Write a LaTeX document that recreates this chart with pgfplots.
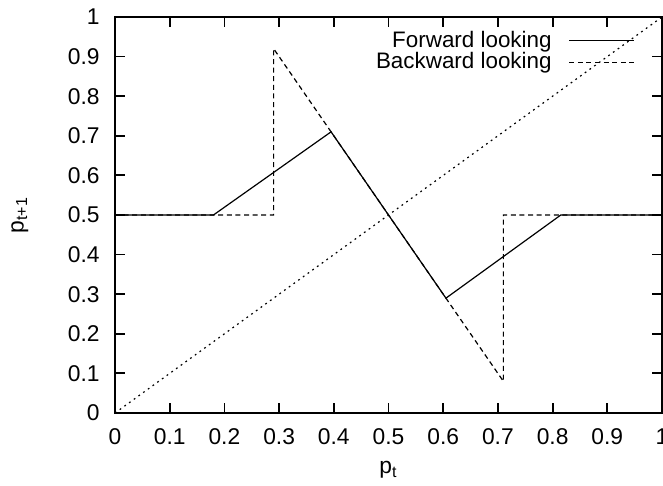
\documentclass[border=0pt]{standalone}
\usepackage{pgfplots}
\pgfplotsset{compat=1.18}
\usepackage{fontspec}
\setmainfont{Liberation Sans}

\begin{document}
\fontsize{11.2}{13}\selectfont
\begin{tikzpicture}[font=\fontsize{11.2}{13}\selectfont]
\begin{axis}[
    name=ax,
    scale only axis,
    width=273.5pt, height=198pt,
    xmin=0, xmax=1, ymin=0, ymax=1,
    /pgf/number format/assume math mode=true,
    xtick={0,0.1,0.2,0.3,0.4,0.5,0.6,0.7,0.8,0.9,1},
    ytick={0,0.1,0.2,0.3,0.4,0.5,0.6,0.7,0.8,0.9,1},
    xticklabels={0,0.1,0.2,0.3,0.4,0.5,0.6,0.7,0.8,0.9,1},
    yticklabels={0,0.1,0.2,0.3,0.4,0.5,0.6,0.7,0.8,0.9,1},
    tick align=inside,
    major tick length=5pt,
    axis line style={line width=0.9pt},
    every tick/.style={line width=0.9pt, black},
    ticklabel style={font=\fontsize{11.4}{13}\selectfont},
    xticklabel style={inner sep=0pt, yshift=-7.5pt},
    yticklabel style={inner sep=0pt, xshift=-7.5pt},
    xlabel={p\textsubscript{t}},
    ylabel={p\textsubscript{t+1}},
    label style={font=\fontsize{11.4}{13}\selectfont},
    xlabel style={at={(axis description cs:0.5,-0.1439)}, anchor=center},
    ylabel style={at={(axis description cs:-0.1737,0.5)}, anchor=center},
    legend style={draw=none, fill=none, at={(axis cs:0.951,0.966)}, anchor=north east,
        inner sep=0pt, row sep=1pt, nodes={inner sep=0pt},
        font=\fontsize{11.2}{13}\selectfont},
    legend cell align=right,
    legend plot pos=right,
    legend image code/.code={\path (0pt,0pt); \draw[#1] (8.5pt,0pt) -- (41pt,0pt);},
]

    % forward looking
    \addplot[black, line width=0.6pt] coordinates {
        (0,0.5) (0.18,0.5) (0.395,0.71) (0.605,0.29) (0.815,0.5) (1,0.5)
    };

    % backward looking
    \addplot[black, line width=0.6pt, dash pattern=on 2.5pt off 1.8pt] coordinates {
        (0,0.5) (0.29,0.5) (0.29,0.92) (0.71,0.08) (0.71,0.5) (1,0.5)
    };

    % 45 degree line
    \addplot[black, line width=0.6pt, dash pattern=on 0.9pt off 2pt, forget plot] coordinates {
        (0,0) (1,1)
    };

    \legend{Forward looking, Backward looking};

\end{axis}
\pgfresetboundingbox
\path[use as bounding box] ([shift={(-57.5pt,-36.5pt)}]ax.south west)
    rectangle ([shift={(0.5pt,8.5pt)}]ax.north east);
\end{tikzpicture}
\end{document}
